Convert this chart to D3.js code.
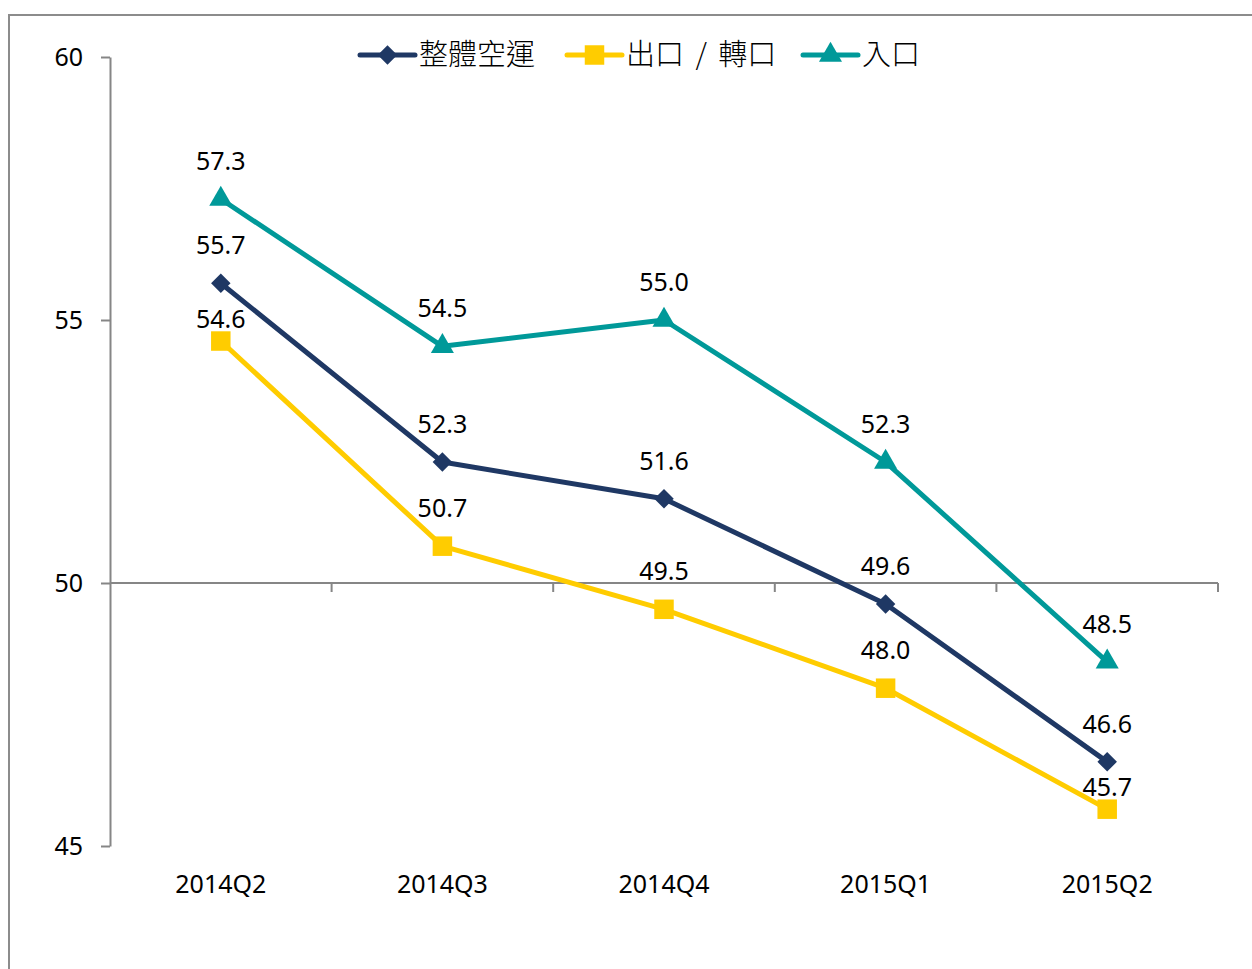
<!DOCTYPE html>
<html>
<head>
<meta charset="utf-8">
<script src="https://cdn.jsdelivr.net/npm/d3@7"></script>
<style>
  body { margin: 0; background: #fff; }
  text { font-family: "Noto Sans", "Noto Sans CJK TC", sans-serif; }
</style>
</head>
<body>
<div id="chart"></div>
<script>
const quarters = ["2014Q2", "2014Q3", "2014Q4", "2015Q1", "2015Q2"];
const overall = [55.7, 52.3, 51.6, 49.6, 46.6];
const exportsRe = [54.6, 50.7, 49.5, 48.0, 45.7];
const imports = [57.3, 54.5, 55.0, 52.3, 48.5];
const seriesNames = ["整體空運", "出口 / 轉口", "入口"];
const yTicks = [45, 50, 55, 60];

const W = 1252, H = 969;
// diamond = square turned 45deg
const series = [
  {name: seriesNames[0], values: overall, color: "#1f3864", symbol: d3.symbolSquare, size: 190, rot: 45},
  {name: seriesNames[1], values: exportsRe, color: "#ffcc00", symbol: d3.symbolSquare, size: 380, rot: 0},
  {name: seriesNames[2], values: imports, color: "#009999", symbol: d3.symbolTriangle, size: 230, rot: 0}
];

const svg = d3.select("#chart").append("svg")
  .attr("width", W)
  .attr("height", H);

// outer frame (runs past the right/bottom edge)
svg.append("rect")
  .attr("x", 9).attr("y", 15)
  .attr("width", 1400).attr("height", 1100)
  .attr("fill", "none")
  .attr("stroke", "#8c8c8c")
  .attr("stroke-width", 2);

const x = d3.scaleBand()
  .domain(quarters)
  .range([110, 1218])
  .padding(0);

const y = d3.scaleLinear()
  .domain([45, 60])
  .range([846, 57]);

const cx = d => x(d) + x.bandwidth() / 2;

// y axis
const yAxis = svg.append("g")
  .attr("transform", "translate(110,0)")
  .call(d3.axisLeft(y).tickValues(yTicks).tickSize(9).tickPadding(18).tickSizeOuter(0));
yAxis.select(".domain").attr("stroke", "#868686").attr("stroke-width", 2);
yAxis.selectAll(".tick line").attr("stroke", "#868686").attr("stroke-width", 2);
yAxis.selectAll(".tick text")
  .attr("fill", "#000")
  .style("font-size", "25px");

// x axis crosses at 50
const xg = svg.append("g");
xg.append("line")
  .attr("x1", x.range()[0]).attr("x2", x.range()[1])
  .attr("y1", y(50)).attr("y2", y(50))
  .attr("stroke", "#868686").attr("stroke-width", 2);
const edges = quarters.map(q => x(q) + x.bandwidth());
xg.selectAll("line.tk")
  .data(edges)
  .join("line")
  .attr("class", "tk")
  .attr("x1", d => d).attr("x2", d => d)
  .attr("y1", y(50)).attr("y2", y(50) + 9)
  .attr("stroke", "#868686").attr("stroke-width", 2);
xg.selectAll("text")
  .data(quarters)
  .join("text")
  .attr("x", d => cx(d))
  .attr("y", 884)
  .attr("dy", "0.35em")
  .attr("text-anchor", "middle")
  .style("font-size", "25px")
  .text(d => d);

// lines
const line = d3.line()
  .x((d, i) => cx(quarters[i]))
  .y(d => y(d));

series.forEach(s => {
  svg.append("path")
    .datum(s.values)
    .attr("fill", "none")
    .attr("stroke", s.color)
    .attr("stroke-width", 5)
    .attr("stroke-linejoin", "round")
    .attr("d", line);
});

series.forEach(s => {
  svg.selectAll(null)
    .data(s.values)
    .join("path")
    .attr("transform", (d, i) => "translate(" + cx(quarters[i]) + "," + y(d) + ") rotate(" + s.rot + ")")
    .attr("d", d3.symbol().type(s.symbol).size(s.size))
    .attr("fill", s.color);
});

// data labels (the yellow end labels sit closer, like the original)
series.forEach((s, si) => {
  svg.selectAll(null)
    .data(s.values)
    .join("text")
    .attr("x", (d, i) => cx(quarters[i]))
    .attr("y", (d, i) => y(d) - ((si === 1 && (i === 0 || i === 4)) ? 22 : 38))
    .attr("dy", "0.35em")
    .attr("text-anchor", "middle")
    .style("font-size", "25px")
    .attr("fill", "#000")
    .text(d => d.toFixed(1));
});

// legend
const legendX = [360, 567, 803];
const legend = svg.append("g");
series.forEach((s, i) => {
  const g = legend.append("g").attr("transform", "translate(" + legendX[i] + ",55)");
  g.append("line")
    .attr("x1", 0).attr("x2", 55)
    .attr("stroke", s.color).attr("stroke-width", 5)
    .attr("stroke-linecap", "round");
  g.append("path")
    .attr("transform", "translate(27.5,0) rotate(" + s.rot + ")")
    .attr("d", d3.symbol().type(s.symbol).size(s.size))
    .attr("fill", s.color);
  g.append("text")
    .attr("x", 59)
    .attr("dy", "0.36em")
    .style("font-family", "'Noto Sans CJK TC', 'Noto Sans', sans-serif")
    .style("font-size", "29px")
    .style("font-weight", 300)
    .style("word-spacing", "5px")
    .text(s.name);
});
</script>
</body>
</html>
